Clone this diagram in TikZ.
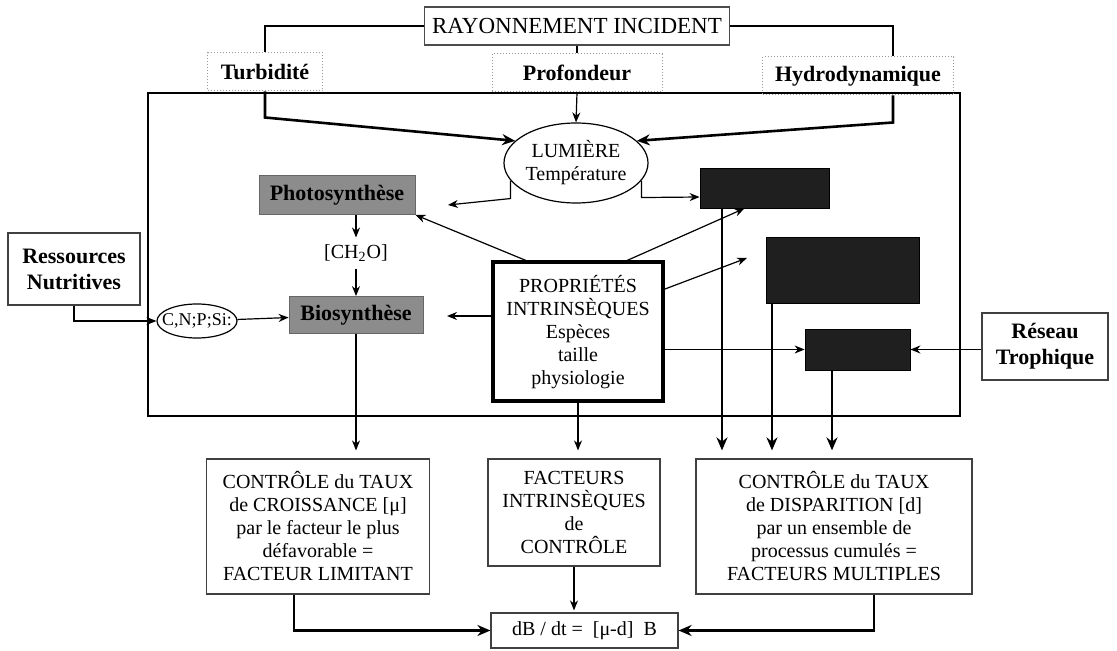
\documentclass[tikz,border=0pt]{standalone}
\usepackage{fontspec}
\setmainfont{Liberation Serif}
\usetikzlibrary{arrows.meta}
\usetikzlibrary{calc}
\usetikzlibrary{shapes.geometric}

\begin{document}
\begin{tikzpicture}[x=0.5pt,y=-0.5pt,
				topmode/.style={rectangle,draw=black!70,line width=0.6pt,minimum width=152.5pt,minimum height=19pt,font=\fontsize{11.5}{13}\selectfont},
				factmode/.style={rectangle,draw=black!40,densely dotted,line width=0.5pt,minimum height=19pt,font=\fontsize{11}{13}\selectfont\bfseries},
				extmode/.style={rectangle,draw=black!75,line width=0.6pt,align=center,font=\fontsize{11}{13}\selectfont\bfseries},
				ovalmode/.style={ellipse,draw,line width=0.6pt,align=center,inner sep=0pt,font=\fontsize{10}{11.5}\selectfont},
				procmode/.style={rectangle,fill=black!45,draw=black!60,font=\fontsize{11}{13}\selectfont\bfseries},
				darkmode/.style={rectangle,fill=black!88,draw=black},
				propmode/.style={rectangle,draw,line width=2pt,align=center,font=\fontsize{10}{11.5}\selectfont},
				ctrlmode/.style={rectangle,draw=black!75,line width=0.6pt,align=center,font=\fontsize{10}{11.5}\selectfont},
				thinlink/.style={-{Stealth[length=5pt,width=4pt]},line width=0.6pt},
				thicklink/.style={-{Stealth[length=6.5pt,width=5.5pt]},line width=1.3pt}]

				\useasboundingbox (0,0) rectangle (1117,651);

				\draw[line width=1.2pt] (148,93) rectangle (960,416);

				\node (ray) [topmode] at (577,26) {RAYONNEMENT INCIDENT};
				\node (turb) [factmode,minimum width=57.5pt] at (265,72) {Turbidité};
				\node (prof) [factmode,minimum width=85pt] at (577,73) {Profondeur};
				\node (hydro) [factmode,minimum width=95.5pt] at (858,76) {Hydrodynamique};
				\node (lum) [ovalmode,minimum width=72pt,minimum height=40pt] at (576,163) {LUMIÈRE\\Température};

				\node (photo) [procmode,minimum width=78pt,minimum height=19.5pt] at (337,195) {Photosynthèse};
				\node (ch2o) [font=\fontsize{10}{11.5}\selectfont] at (356,253) {[CH\textsubscript{2}O]};
				\node (bio) [procmode,minimum width=67pt,minimum height=18.5pt] at (356,315) {Biosynthèse};
				\node (cnps) [ovalmode,minimum width=40pt,minimum height=17pt,inner xsep=-9pt,font=\fontsize{9}{10}\selectfont] at (197,321) {C,N;P;Si:};
				\node (res) [extmode,minimum width=66pt,minimum height=36pt] at (74,269) {Ressources\\Nutritives};
				\node (prop) [propmode,minimum width=85pt,minimum height=69.5pt] at (578,332) {PROPRIÉTÉS\\INTRINSÈQUES\\Espèces\\taille\\physiologie};

				\node (box1) [darkmode,minimum width=64.5pt,minimum height=20pt] at (764.5,188) {};
				\node (box2) [darkmode,minimum width=76.5pt,minimum height=33pt] at (842.5,270) {};
				\node (box3) [darkmode,minimum width=52.5pt,minimum height=20.5pt] at (857.5,349.5) {};
				\node (reseau) [extmode,minimum width=63pt,minimum height=33.5pt] at (1045,346.5) {Réseau\\Trophique};

				\node (croiss) [ctrlmode,minimum width=111.5pt,minimum height=67.5pt] at (318,526.5) {CONTRÔLE du TAUX\\de CROISSANCE [μ]\\par le facteur le plus\\défavorable =\\FACTEUR LIMITANT};
				\node (fact) [ctrlmode,minimum width=86pt,minimum height=53.5pt] at (574,512.5) {FACTEURS\\INTRINSÈQUES\\de\\CONTRÔLE};
				\node (dispar) [ctrlmode,minimum width=138pt,minimum height=67.5pt] at (834,526.5) {CONTRÔLE du TAUX\\de DISPARITION [d]\\par un ensemble de\\processus cumulés =\\FACTEURS MULTIPLES};
				\node (db) [ctrlmode,minimum width=93.5pt,minimum height=17.5pt] at (584.5,630.5) {dB / dt =\ \ [μ-d]\ \ B};

				\coordinate (lumtip) at (448,205);
				\coordinate (proptip) at (747,258);
				\coordinate (biotip) at (447,316);
				\coordinate (d1) at ($(box1.south)+(-42.5,0)$);
				\coordinate (d2) at ($(box2.south)+(-70.5,0)$);
				\coordinate (d3) at ($(box3.south)+(-25.5,0)$);

				\draw [line width=1pt] (ray.west) -| (turb.north);
				\draw [line width=1pt] (ray.east) -| ($(hydro.north)+(35,0)$);
				\draw [line width=0.6pt] (ray.south) -- (ray.south |- prof.north);
				\draw [thicklink] (turb.south) -- ++(0,26) -- (lum.160);
				\draw [thinlink] (prof.south) -- (lum.north);
				\draw [thicklink] ($(hydro.south)+(35,0)$) -- ++(0,27) -- (lum.20);

				\draw [thinlink] (lum.-165) -- ++(0,18) -- (lumtip);
				\draw [thinlink] (lum.-15) -- ++(0,17) -- ($(box1.west)+(0,9)$);
				\draw [thinlink] (photo.south -| ch2o) -- (ch2o.north);
				\draw [thinlink] (ch2o.south) -- (bio.north);
				\draw [thinlink] (cnps) -- (bio);
				\draw [thinlink] (res.south) |- (cnps.west);
				\draw [thinlink] ($(prop.north west)+(35,0)$) -- (photo.south east);
				\draw [thinlink] ($(prop.north east)+(-38,0)$) -- ($(box1.south)+(-20,0)$);
				\draw [thinlink] ($(prop.east)+(0,-43)$) -- (proptip);
				\draw [thinlink] (prop.west |- biotip) -- (biotip);
				\draw [thinlink] (prop.east |- box3.west) -- (box3.west);
				\draw [thinlink] (reseau.west |- box3.east) -- (box3.east);

				\draw [thicklink,shorten >=4pt] (d1) -- (d1 |- dispar.north);
				\draw [thicklink,shorten >=4pt] (d2) -- (d2 |- dispar.north);
				\draw [thicklink,shorten >=4pt] (d3) -- (d3 |- dispar.north);
				\draw [thinlink,shorten >=4pt] (bio.south) -- (bio.south |- croiss.north);
				\draw [thinlink,shorten >=4pt] (prop.south) -- (prop.south |- fact.north);
				\draw [thinlink,shorten >=1pt] (fact.south) -- (fact.south |- db.north);
				\draw [thicklink] ($(croiss.south)+(-24,0)$) |- (db.west);
				\draw [thicklink] ($(dispar.south)+(40,0)$) |- (db.east);
			\end{tikzpicture}
\end{document}
